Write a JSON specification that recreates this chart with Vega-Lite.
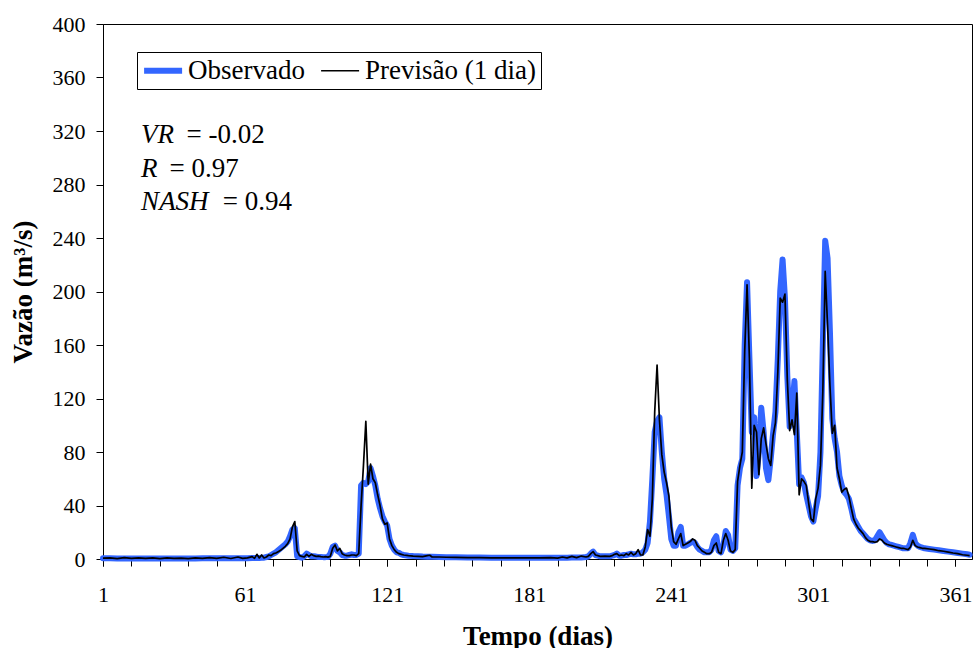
{
  "$schema": "https://vega.github.io/schema/vega-lite/v6.json",
  "width": 869,
  "height": 535,
  "autosize": {"type": "none"},
  "padding": {"left": 103, "top": 24, "right": 1, "bottom": 89},
  "background": "white",
  "config": {
    "font": "Liberation Serif",
    "view": {"stroke": "black", "strokeWidth": 1},
    "axis": {
      "labelFont": "Liberation Serif",
      "labelFontSize": 22,
      "labelColor": "black",
      "titleFont": "Liberation Serif",
      "titleFontSize": 27,
      "titleFontWeight": "bold",
      "titleColor": "black",
      "domainColor": "black",
      "domainWidth": 1,
      "tickColor": "black",
      "tickWidth": 1,
      "tickSize": 7,
      "grid": false
    },
    "legend": {
      "orient": "none",
      "legendX": 34,
      "legendY": 28,
      "direction": "horizontal",
      "title": null,
      "strokeColor": "black",
      "fillColor": "white",
      "padding": 5,
      "labelFont": "Liberation Serif",
      "labelFontSize": 27,
      "labelColor": "black",
      "labelLimit": 0,
      "labelOffset": 19,
      "columnPadding": 12,
      "symbolType": "M-1.2,0H2.8",
      "symbolSize": 361
    }
  },
  "resolve": {"axis": {"x": "independent"}},
  "data": {"name": "vazao"},
  "layer": [
    {
      "transform": [
        {"fold": ["obs", "prev"], "as": ["serie", "vazao"]},
        {"filter": "datum.serie == 'obs'"}
      ],
      "mark": {"type": "line", "strokeJoin": "round", "strokeCap": "round"},
      "encoding": {
        "x": {"field": "dia", "type": "quantitative",
          "scale": {"domain": [1, 368], "nice": false, "zero": false},
          "axis": {"title": "Tempo (dias)", "orient": "bottom", "values": [1,61,121,181,241,301,361],
            "format": "d", "labelFontSize": 22, "labelFont": "Liberation Serif", "labelPadding": 18, "titlePadding": 18, "labelFlush": false, "labelOverlap": false}},
        "y": {"field": "vazao", "type": "quantitative",
          "scale": {"domain": [0, 400], "nice": false},
          "axis": {"title": "Vazão (m³/s)", "values": [0,40,80,120,160,200,240,280,320,360,400], "labelFontSize": 22, "labelPadding": 11, "titlePadding": 15}},
        "color": {"field": "serie", "type": "ordinal",
          "scale": {"domain": ["obs", "prev"], "range": ["#3366FF", "#000000"]},
          "legend": {"labelExpr": "datum.value == 'obs' ? 'Observado' : 'Previsão (1 dia)'"}},
        "strokeWidth": {"field": "serie", "type": "ordinal",
          "scale": {"domain": ["obs", "prev"], "range": [6, 1.7]},
          "legend": {"labelExpr": "datum.value == 'obs' ? 'Observado' : 'Previsão (1 dia)'"}}
      }
    },
    {
      "transform": [
        {"fold": ["obs", "prev"], "as": ["serie", "vazao"]},
        {"filter": "datum.serie == 'prev'"}
      ],
      "mark": {"type": "line", "strokeJoin": "round"},
      "encoding": {
        "x": {"field": "dia", "type": "quantitative",
          "axis": {"title": null, "orient": "bottom", "values": [1,13,25,37,49,61,73,85,97,109,121,133,145,157,169,181,193,205,217,229,241,253,265,277,289,301,313,325,337,349,361],
            "labels": false, "domain": false}},
        "y": {"field": "vazao", "type": "quantitative"},
        "color": {"field": "serie", "type": "ordinal"},
        "strokeWidth": {"field": "serie", "type": "ordinal"}
      }
    },
    {
      "data": {"name": "stats"},
      "mark": {"type": "text", "align": "left", "baseline": "alphabetic", "font": "Liberation Serif", "fontSize": 27, "fontStyle": "italic", "color": "black"},
      "encoding": {
        "x": {"field": "dia", "type": "quantitative", "axis": null},
        "y": {"field": "q", "type": "quantitative"},
        "text": {"field": "nome"}
      }
    },
    {
      "data": {"name": "stats"},
      "mark": {"type": "text", "align": "left", "baseline": "alphabetic", "font": "Liberation Serif", "fontSize": 27, "color": "black"},
      "encoding": {
        "x": {"field": "dia2", "type": "quantitative", "axis": null},
        "y": {"field": "q", "type": "quantitative"},
        "text": {"field": "valor"}
      }
    }
  ],
  "datasets": {
    "stats": [
      {"nome": "VR", "valor": "= -0.02", "dia": 17.1, "dia2": 36.3, "q": 310.8},
      {"nome": "R", "valor": "= 0.97", "dia": 17.1, "dia2": 29.1, "q": 285.8},
      {"nome": "NASH", "valor": "= 0.94", "dia": 17.1, "dia2": 51.6, "q": 261}
    ],
    "vazao": [
      {"dia":1,"obs":0.5,"prev":0.6},{"dia":4,"obs":0.5,"prev":0.8},{"dia":7,"obs":0.4,"prev":0.3},{"dia":10,"obs":0.4,"prev":1.0},
      {"dia":13,"obs":0.4,"prev":0.5},{"dia":16,"obs":0.4,"prev":0.9},{"dia":19,"obs":0.4,"prev":0.4},{"dia":22,"obs":0.4,"prev":0.8},
      {"dia":25,"obs":0.4,"prev":0.3},{"dia":28,"obs":0.4,"prev":0.9},{"dia":31,"obs":0.4,"prev":0.4},{"dia":34,"obs":0.4,"prev":0.7},
      {"dia":37,"obs":0.4,"prev":0.3},{"dia":40,"obs":0.4,"prev":0.8},{"dia":43,"obs":0.5,"prev":0.4},{"dia":46,"obs":0.5,"prev":1.0},
      {"dia":49,"obs":0.5,"prev":0.5},{"dia":52,"obs":0.5,"prev":1.3},{"dia":55,"obs":0.5,"prev":0.4},{"dia":58,"obs":0.6,"prev":1.5},
      {"dia":60,"obs":0.6,"prev":0.5},{"dia":62,"obs":0.6,"prev":0.8},{"dia":64,"obs":0.7,"prev":1.8},{"dia":65,"obs":0.7,"prev":0.5},
      {"dia":66,"obs":0.8,"prev":3.5},{"dia":67,"obs":0.8,"prev":0.8},{"dia":68,"obs":0.9,"prev":3.0},{"dia":69,"obs":1.0,"prev":0.8},
      {"dia":70,"obs":1.5,"prev":1.5},{"dia":71,"obs":2,"prev":3},{"dia":72,"obs":3,"prev":2.5},{"dia":73,"obs":4,"prev":4},
      {"dia":74,"obs":5,"prev":4.5},{"dia":75,"obs":6.5,"prev":5.5},{"dia":76,"obs":8,"prev":6.5},{"dia":77,"obs":9.5,"prev":8},
      {"dia":78,"obs":11,"prev":9.5},{"dia":79,"obs":13,"prev":11.5},{"dia":80,"obs":17,"prev":15},{"dia":81,"obs":22,"prev":24},
      {"dia":82,"obs":23,"prev":28},{"dia":83,"obs":2,"prev":6},{"dia":84,"obs":1.5,"prev":2.5},{"dia":85,"obs":1,"prev":2},
      {"dia":86,"obs":2,"prev":1.5},{"dia":87,"obs":4,"prev":3.5},{"dia":88,"obs":3,"prev":2},{"dia":89,"obs":2,"prev":3.5},
      {"dia":90,"obs":2,"prev":2.5},{"dia":91,"obs":1.8,"prev":2},{"dia":92,"obs":1.5,"prev":2.2},{"dia":93,"obs":1.5,"prev":1.8},
      {"dia":94,"obs":1.4,"prev":1.5},{"dia":95,"obs":1.4,"prev":1.8},{"dia":96,"obs":1.5,"prev":1.4},{"dia":97,"obs":4,"prev":2},
      {"dia":98,"obs":9,"prev":8},{"dia":99,"obs":10,"prev":10.5},{"dia":100,"obs":6,"prev":6},{"dia":101,"obs":5,"prev":8},
      {"dia":102,"obs":3,"prev":4},{"dia":103,"obs":2.5,"prev":3},{"dia":104,"obs":2.5,"prev":2.5},{"dia":105,"obs":3,"prev":2.5},
      {"dia":106,"obs":3.5,"prev":3},{"dia":107,"obs":3,"prev":3},{"dia":108,"obs":3,"prev":2.5},{"dia":109,"obs":4,"prev":4},
      {"dia":110,"obs":55,"prev":40},{"dia":111,"obs":57,"prev":70},{"dia":112,"obs":56,"prev":103},{"dia":113,"obs":58,"prev":56},
      {"dia":114,"obs":68,"prev":71},{"dia":115,"obs":62,"prev":60},{"dia":116,"obs":55,"prev":57},{"dia":117,"obs":45,"prev":48},
      {"dia":118,"obs":38,"prev":40},{"dia":119,"obs":32,"prev":30},{"dia":120,"obs":28,"prev":26},{"dia":121,"obs":25,"prev":27},
      {"dia":122,"obs":15,"prev":15},{"dia":123,"obs":10,"prev":10},{"dia":124,"obs":7,"prev":7},{"dia":125,"obs":5,"prev":5},
      {"dia":126,"obs":4.5,"prev":4},{"dia":127,"obs":3.5,"prev":3.5},{"dia":128,"obs":3,"prev":3},{"dia":130,"obs":2.5,"prev":2.5},
      {"dia":132,"obs":2.2,"prev":2.2},{"dia":134,"obs":2,"prev":2},{"dia":136,"obs":1.8,"prev":1.8},{"dia":138,"obs":1.7,"prev":2.5},
      {"dia":139,"obs":1.6,"prev":2.8},{"dia":140,"obs":1.6,"prev":1.5},{"dia":143,"obs":1.5,"prev":1.5},{"dia":146,"obs":1.4,"prev":1.3},
      {"dia":150,"obs":1.3,"prev":1.2},{"dia":155,"obs":1.2,"prev":1.1},{"dia":160,"obs":1.1,"prev":1.0},{"dia":165,"obs":1.0,"prev":0.9},
      {"dia":170,"obs":1.0,"prev":0.8},{"dia":175,"obs":0.9,"prev":0.8},{"dia":180,"obs":0.9,"prev":0.8},{"dia":185,"obs":0.9,"prev":0.8},
      {"dia":190,"obs":0.9,"prev":1.0},{"dia":193,"obs":0.9,"prev":0.6},{"dia":195,"obs":1.0,"prev":1.5},{"dia":197,"obs":1.0,"prev":0.8},
      {"dia":199,"obs":1.1,"prev":2.0},{"dia":201,"obs":1.1,"prev":1.0},{"dia":203,"obs":1.2,"prev":2.2},{"dia":205,"obs":1.5,"prev":1.5},
      {"dia":206,"obs":2,"prev":2},{"dia":207,"obs":4,"prev":4},{"dia":208,"obs":5.5,"prev":5.5},{"dia":209,"obs":3,"prev":3},
      {"dia":210,"obs":2.5,"prev":2.5},{"dia":211,"obs":2,"prev":2},{"dia":213,"obs":2,"prev":2.2},{"dia":215,"obs":2,"prev":2},
      {"dia":216,"obs":2.5,"prev":2.5},{"dia":217,"obs":3,"prev":3.5},{"dia":218,"obs":4,"prev":4},{"dia":219,"obs":2.5,"prev":2.5},
      {"dia":220,"obs":2.5,"prev":3},{"dia":221,"obs":3,"prev":2.5},{"dia":222,"obs":3,"prev":4},{"dia":223,"obs":3.5,"prev":3},
      {"dia":224,"obs":4,"prev":5},{"dia":225,"obs":3.5,"prev":3},{"dia":226,"obs":3.5,"prev":4},{"dia":227,"obs":4,"prev":7},
      {"dia":228,"obs":4,"prev":3},{"dia":229,"obs":5,"prev":3},{"dia":230,"obs":7,"prev":9},{"dia":231,"obs":12,"prev":22},
      {"dia":232,"obs":28,"prev":17},{"dia":233,"obs":60,"prev":45},{"dia":234,"obs":95,"prev":110},{"dia":235,"obs":103,"prev":145},
      {"dia":236,"obs":106,"prev":104},{"dia":237,"obs":80,"prev":78},{"dia":238,"obs":60,"prev":65},{"dia":239,"obs":48,"prev":57},
      {"dia":240,"obs":32,"prev":47},{"dia":241,"obs":15,"prev":24},{"dia":242,"obs":10,"prev":13},{"dia":243,"obs":10,"prev":11},
      {"dia":244,"obs":20,"prev":15},{"dia":245,"obs":24,"prev":19},{"dia":246,"obs":10,"prev":10},{"dia":247,"obs":10,"prev":11},
      {"dia":248,"obs":11,"prev":12},{"dia":249,"obs":12,"prev":13},{"dia":250,"obs":13,"prev":15},{"dia":251,"obs":12,"prev":14},
      {"dia":252,"obs":9,"prev":10},{"dia":253,"obs":7,"prev":8},{"dia":254,"obs":6,"prev":6},{"dia":255,"obs":5,"prev":5},
      {"dia":256,"obs":5,"prev":4},{"dia":257,"obs":5,"prev":4},{"dia":258,"obs":7,"prev":5},{"dia":259,"obs":14,"prev":10},
      {"dia":260,"obs":17,"prev":12},{"dia":261,"obs":6,"prev":5},{"dia":262,"obs":5,"prev":4},{"dia":263,"obs":10,"prev":14},
      {"dia":264,"obs":21,"prev":19},{"dia":265,"obs":18,"prev":14},{"dia":266,"obs":7,"prev":6},{"dia":267,"obs":6,"prev":5},
      {"dia":268,"obs":8,"prev":7},{"dia":269,"obs":55,"prev":58},{"dia":270,"obs":68,"prev":70},{"dia":271,"obs":75,"prev":80},
      {"dia":272,"obs":160,"prev":155},{"dia":273,"obs":207,"prev":205},{"dia":274,"obs":150,"prev":150},{"dia":275,"obs":95,"prev":53},
      {"dia":276,"obs":106,"prev":100},{"dia":277,"obs":62,"prev":95},{"dia":278,"obs":80,"prev":63},{"dia":279,"obs":113,"prev":90},
      {"dia":280,"obs":95,"prev":98},{"dia":281,"obs":68,"prev":86},{"dia":282,"obs":59,"prev":75},{"dia":283,"obs":75,"prev":70},
      {"dia":284,"obs":94,"prev":92},{"dia":285,"obs":110,"prev":102},{"dia":286,"obs":150,"prev":140},{"dia":287,"obs":200,"prev":195},
      {"dia":288,"obs":224,"prev":192},{"dia":289,"obs":195,"prev":198},{"dia":290,"obs":137,"prev":134},{"dia":291,"obs":99,"prev":96},
      {"dia":292,"obs":110,"prev":104},{"dia":293,"obs":133,"prev":93},{"dia":294,"obs":95,"prev":124},{"dia":295,"obs":56,"prev":48},
      {"dia":296,"obs":61,"prev":60},{"dia":297,"obs":57,"prev":58},{"dia":298,"obs":48,"prev":55},{"dia":299,"obs":40,"prev":42},
      {"dia":300,"obs":32,"prev":30},{"dia":301,"obs":28,"prev":28},{"dia":302,"obs":38,"prev":45},{"dia":303,"obs":47,"prev":53},
      {"dia":304,"obs":80,"prev":70},{"dia":305,"obs":160,"prev":125},{"dia":306,"obs":238,"prev":215},{"dia":307,"obs":225,"prev":175},
      {"dia":308,"obs":170,"prev":130},{"dia":309,"obs":105,"prev":94},{"dia":310,"obs":90,"prev":100},{"dia":311,"obs":80,"prev":68},
      {"dia":312,"obs":62,"prev":60},{"dia":313,"obs":55,"prev":50},{"dia":314,"obs":50,"prev":52},{"dia":315,"obs":48,"prev":53},
      {"dia":316,"obs":45,"prev":47},{"dia":317,"obs":38,"prev":38},{"dia":318,"obs":30,"prev":30},{"dia":319,"obs":27,"prev":26},
      {"dia":320,"obs":24,"prev":23},{"dia":321,"obs":21,"prev":21},{"dia":322,"obs":19,"prev":19},{"dia":323,"obs":17,"prev":16},
      {"dia":324,"obs":15,"prev":14},{"dia":325,"obs":14,"prev":13},{"dia":326,"obs":13.5,"prev":13},{"dia":327,"obs":14,"prev":12.5},
      {"dia":328,"obs":17,"prev":13},{"dia":329,"obs":20,"prev":15},{"dia":330,"obs":17,"prev":14},{"dia":331,"obs":14,"prev":12},
      {"dia":332,"obs":12,"prev":11},{"dia":333,"obs":11,"prev":10.5},{"dia":334,"obs":10.5,"prev":10},{"dia":335,"obs":10,"prev":9.5},
      {"dia":336,"obs":9.5,"prev":9},{"dia":337,"obs":9,"prev":8.5},{"dia":338,"obs":8.5,"prev":8},{"dia":339,"obs":8,"prev":8},
      {"dia":340,"obs":8,"prev":7.5},{"dia":341,"obs":8,"prev":7},{"dia":342,"obs":12,"prev":9},{"dia":343,"obs":18,"prev":14},
      {"dia":344,"obs":12,"prev":10},{"dia":345,"obs":10,"prev":9},{"dia":346,"obs":9,"prev":8.5},{"dia":347,"obs":8.5,"prev":8},
      {"dia":348,"obs":8,"prev":8},{"dia":350,"obs":7.5,"prev":7.5},{"dia":352,"obs":7,"prev":7},{"dia":354,"obs":6.5,"prev":6.2},
      {"dia":356,"obs":6,"prev":5.8},{"dia":358,"obs":5.5,"prev":5.2},{"dia":360,"obs":5,"prev":4.5},{"dia":362,"obs":4.5,"prev":4},
      {"dia":364,"obs":4,"prev":3.2},{"dia":366,"obs":3.5,"prev":2.8},{"dia":367,"obs":3.2,"prev":2.5}
    ]
  }
}
